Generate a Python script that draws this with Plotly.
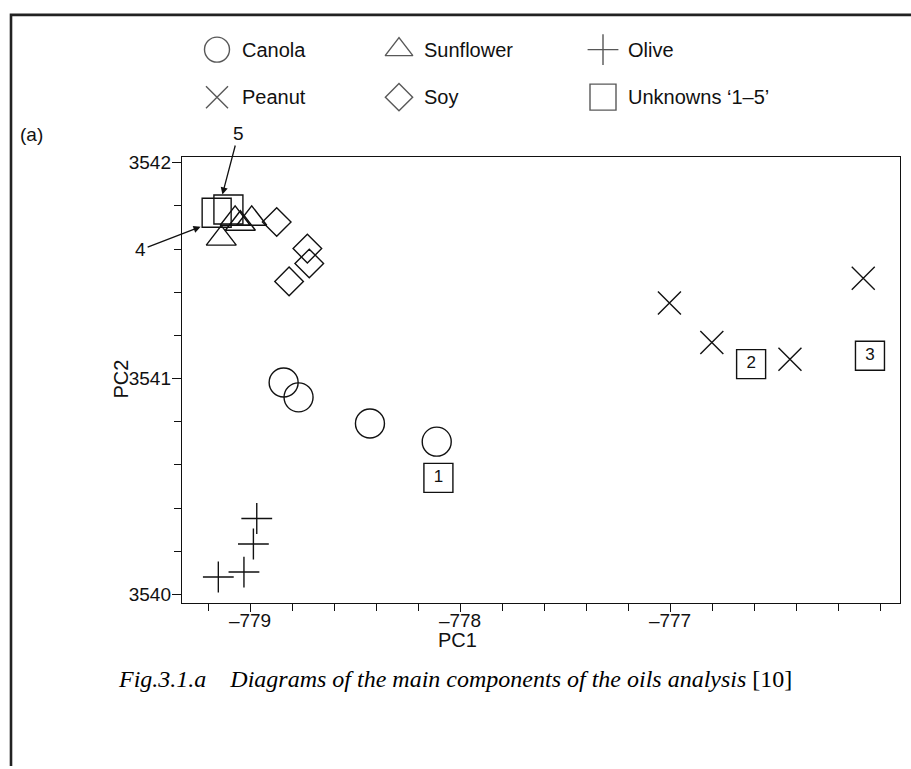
import numpy as np
import plotly.graph_objects as go

# ---- PCA scores (PC1, PC2) of the oil samples ----
canola_pc1 = [-778.840, -778.769, -778.429, -778.111]
canola_pc2 = [3540.982, 3540.913, 3540.792, 3540.708]

sunflower_pc1 = [-779.071, -778.992, -779.137, -779.046]
sunflower_pc2 = [3541.740, 3541.740, 3541.648, 3541.717]

olive_pc1 = [-778.968, -778.984, -779.029, -779.151]
olive_pc2 = [3540.352, 3540.234, 3540.104, 3540.081]

peanut_pc1 = [-777.003, -776.801, -776.429, -776.080]
peanut_pc2 = [3541.350, 3541.167, 3541.090, 3541.465]

soy_pc1 = [-778.873, -778.727, -778.718, -778.814]
soy_pc2 = [3541.725, 3541.602, 3541.533, 3541.450]

unknown_ids = ["1", "2", "3", "4", "5"]
unknown_pc1 = [-778.103, -776.614, -776.048, -779.159, -779.103]
unknown_pc2 = [3540.540, 3541.067, 3541.106, 3541.768, 3541.783]

x_ticks = [-779, -778, -777]
x_ticktext = ["\u2013779", "\u2013778", "\u2013777"]
y_ticks = [3540, 3541, 3542]
y_ticktext = ["3540", "3541", "3542"]

legend_labels = ["Canola", "Sunflower", "Olive", "Peanut", "Soy", "Unknowns \u20181\u20135\u2019"]

# ---- page geometry (pixels) ----
W, H = 911, 769
L, R, T, B = 182, 900, 154, 604
INK = "#111111"
SANS = "Liberation Sans, Arial, sans-serif"
SERIF = "Liberation Serif, Times New Roman, serif"

fig = go.Figure()


def marker_style(symbol, size):
    return dict(symbol=symbol, size=size, color=INK, line=dict(color=INK, width=1.4))


series = [
    (canola_pc1, canola_pc2, "Canola", "circle-open", 29),
    (sunflower_pc1, sunflower_pc2, "Sunflower", "triangle-up-open", 26),
    (olive_pc1, olive_pc2, "Olive", "cross-thin", 22),
    (peanut_pc1, peanut_pc2, "Peanut", "x-thin", 23),
    (soy_pc1, soy_pc2, "Soy", "diamond-open", 22),
]
for xs, ys, name, sym, size in series:
    fig.add_trace(go.Scatter(x=xs, y=ys, mode="markers", name=name,
                             marker=marker_style(sym, size), showlegend=False,
                             xaxis="x", yaxis="y"))

# unknown samples: 1-3 labelled inside their box, 4 and 5 by arrows
box_text = unknown_ids[:3] + [""] * (len(unknown_ids) - 3)
fig.add_trace(go.Scatter(x=unknown_pc1, y=unknown_pc2, mode="markers+text",
                         name="Unknowns", text=box_text, textposition="middle center",
                         textfont=dict(family=SANS, size=17, color=INK),
                         marker=marker_style("square-open", 29), showlegend=False,
                         xaxis="x", yaxis="y"))

# ---- key drawn on a pixel-unit overlay axis ----
legend_cols = [217, 399, 603]
legend_rows = [46, 94]
legend_symbols = ["circle-open", "triangle-up-open", "cross-thin",
                  "x-thin", "diamond-open", "square-open"]
legend_sizes = [25, 24, 22, 22, 21, 26]
lx = [legend_cols[i % 3] for i in range(6)]
ly = [legend_rows[i // 3] for i in range(6)]
fig.add_trace(go.Scatter(x=lx, y=ly, mode="markers", showlegend=False, hoverinfo="skip",
                         marker=dict(symbol=legend_symbols, size=legend_sizes, color=INK,
                                     line=dict(color=INK, width=1.4)),
                         xaxis="x2", yaxis="y2"))

annotations = []
for i, lab in enumerate(legend_labels):
    annotations.append(dict(x=lx[i] + 23, y=ly[i], xref="x2", yref="y2", text=lab,
                            showarrow=False, xanchor="left", yanchor="middle",
                            font=dict(family=SANS, size=20, color=INK)))

# arrows for unknowns 4 and 5
annotations.append(dict(x=unknown_pc1[3], y=unknown_pc2[3], xref="x", yref="y",
                        xshift=-16, yshift=-14, text=unknown_ids[3], showarrow=True,
                        ax=-60, ay=23, arrowhead=2, arrowsize=1.1, arrowwidth=1.3,
                        arrowcolor=INK, font=dict(family=SANS, size=19, color=INK)))
annotations.append(dict(x=unknown_pc1[4], y=unknown_pc2[4], xref="x", yref="y",
                        xshift=-6, yshift=15, text=unknown_ids[4], showarrow=True,
                        ax=16, ay=-61, arrowhead=2, arrowsize=1.1, arrowwidth=1.3,
                        arrowcolor=INK, font=dict(family=SANS, size=19, color=INK)))

# panel tag, axis titles and caption
annotations.append(dict(x=18, y=132, xref="x2", yref="y2", text="(a)", showarrow=False,
                        xanchor="left", yanchor="middle",
                        font=dict(family=SANS, size=19, color=INK)))
annotations.append(dict(x=457, y=642, xref="x2", yref="y2", text="PC1",
                        showarrow=False, font=dict(family=SANS, size=20, color=INK)))
annotations.append(dict(x=121, y=(T + B) / 2, xref="x2", yref="y2", text="PC2",
                        showarrow=False, textangle=-90,
                        font=dict(family=SANS, size=20, color=INK)))
annotations.append(dict(x=455, y=681, xref="x2", yref="y2",
                        text="<i>Fig.3.1.a\u00a0\u00a0\u00a0\u00a0Diagrams of the main components "
                             "of the oils analysis</i> [10]",
                        showarrow=False, font=dict(family=SERIF, size=24, color="#000")))

# outer page frame (left and top edges visible)
shapes = [dict(type="rect", xref="x2", yref="y2", x0=11, y0=11, x1=W + 30, y1=H + 30,
               line=dict(color="#222", width=2.6), fillcolor="rgba(0,0,0,0)")]

x_minor = [round(v, 1) for v in np.arange(-779.2, -775.95, 0.2)
           if abs(v - round(v)) > 1e-6 or round(v) == -776]
y_minor = [round(v, 1) for v in np.arange(3540.0, 3542.01, 0.2) if abs(v - round(v)) > 1e-6]

axis_common = dict(ticks="outside", tickwidth=1.3, tickcolor=INK,
                   showline=True, linecolor=INK, linewidth=1.4, mirror=True,
                   showgrid=False, zeroline=False,
                   tickfont=dict(family=SANS, size=19, color=INK))

fig.update_layout(
    width=W, height=H,
    margin=dict(l=0, r=0, t=0, b=0),
    paper_bgcolor="white", plot_bgcolor="rgba(0,0,0,0)",
    xaxis=dict(domain=[L / W, R / W], range=[-779.324, -775.905], anchor="y",
               tickmode="array", tickvals=x_ticks, ticktext=x_ticktext,
               ticklen=8, ticklabelstandoff=-8,
               minor=dict(tickmode="array", tickvals=x_minor, ticks="outside",
                          ticklen=7, tickwidth=1.2, tickcolor=INK, showgrid=False),
               **axis_common),
    yaxis=dict(domain=[1 - B / H, 1 - T / H], range=[3539.963, 3542.028], anchor="x",
               tickmode="array", tickvals=y_ticks, ticktext=y_ticktext,
               ticklen=9, ticklabelstandoff=-3,
               minor=dict(tickmode="array", tickvals=y_minor, ticks="outside",
                          ticklen=7, tickwidth=1.2, tickcolor=INK, showgrid=False),
               **axis_common),
    xaxis2=dict(domain=[0, 1], range=[0, W], visible=False, anchor="y2", fixedrange=True),
    yaxis2=dict(domain=[0, 1], range=[H, 0], visible=False, anchor="x2", fixedrange=True),
    annotations=annotations,
    shapes=shapes,
    showlegend=False,
)

fig.write_html("out.html")
